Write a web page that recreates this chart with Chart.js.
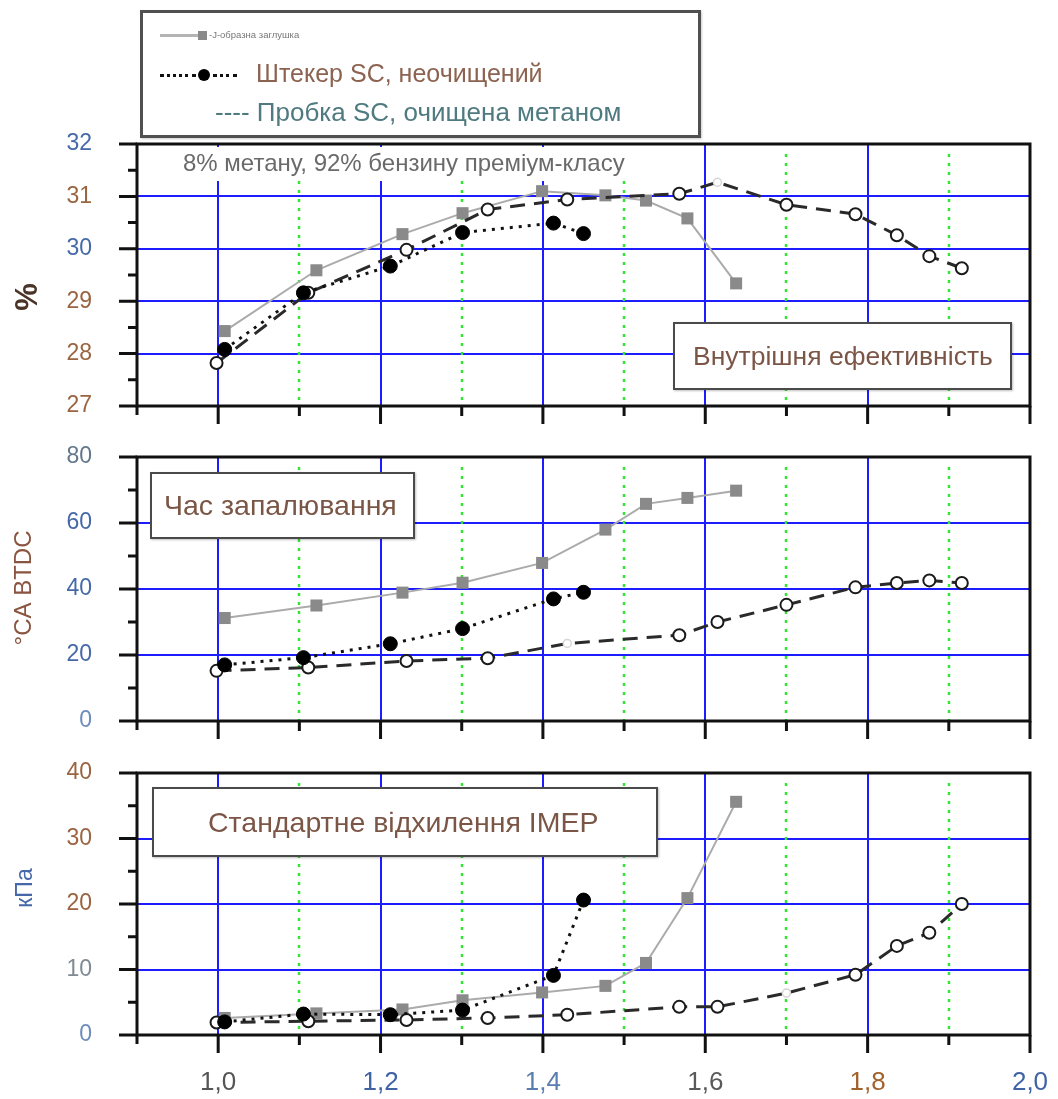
<!DOCTYPE html>
<html lang="uk">
<head>
<meta charset="utf-8">
<title>Внутрішня ефективність, час запалювання, IMEP</title>
<script src="https://cdn.jsdelivr.net/npm/chart.js@4.4.1/dist/chart.umd.min.js"></script>
<style>
  body { margin: 0; background: #fff; font-family: "Liberation Sans", Arial, sans-serif; }
  #page { position: relative; width: 1058px; height: 1099px; overflow: hidden; background: #fff; }
  canvas { position: absolute; left: 0; }
  .box {
    position: absolute; box-sizing: border-box; background: #fff;
    border: 2px solid #4a4a4a; box-shadow: 1px 1px 2px rgba(0,0,0,0.25);
    color: #7b5646; display: flex; align-items: center; white-space: nowrap;
  }
  #legend { position: absolute; left: 140px; top: 10px; width: 561px; height: 128px; box-sizing: border-box;
            border: 3px solid #505050; background: #fff; box-shadow: 1px 1px 2px rgba(0,0,0,0.2); }
  .abs { position: absolute; white-space: nowrap; }
</style>
</head>
<body>
<div id="page">
  <canvas id="effChart" width="1058" height="300" style="top:130px"></canvas>
  <canvas id="sparkChart" width="1058" height="300" style="top:440px"></canvas>
  <canvas id="imepChart" width="1058" height="349" style="top:750px"></canvas>

  <div id="legend">
    <div class="abs" style="left:17px; top:21px; width:38px; border-top:3px solid #b4b4b4"></div>
    <div class="abs" style="left:55px; top:18px; width:9px; height:9px; background:#8a8a8a"></div>
    <div class="abs" style="left:66px; top:16px; font-size:9.5px; color:#777">-J-образна заглушка</div>

    <div class="abs" style="left:17px; top:61px; width:36px; border-top:3px dotted #111"></div>
    <div class="abs" style="left:55px; top:56px; width:12px; height:12px; border-radius:50%; background:#000"></div>
    <div class="abs" style="left:70px; top:61px; width:24px; border-top:3px dotted #111"></div>
    <div class="abs" style="left:113px; top:46px; font-size:25px; color:#8c6350">Штекер SC, неочищений</div>

    <div class="abs" style="left:72px; top:84px; font-size:26px; color:#4e7a80">---- Пробка SC, очищена метаном</div>
  </div>

  <div class="abs" style="left:145px; top:147px; width:500px; height:34px; background:#fff;">
    <div class="abs" style="left:38px; top:2px; font-size:24px; color:#6a6a6a">8% метану, 92% бензину преміум-класу</div>
  </div>

  <div class="box" style="left:673px; top:322px; width:339px; height:68px; font-size:26.5px; padding-left:18px">Внутрішня ефективність</div>
  <div class="box" style="left:150px; top:472px; width:265px; height:67px; font-size:28.5px; padding-left:12px">Час запалювання</div>
  <div class="box" style="left:152px; top:787px; width:506px; height:70px; font-size:28.5px; padding-left:54px">Стандартне відхилення IMEP</div>
</div>

<script>
// λ для кожної серії
const lambdaJ = [1.008, 1.121, 1.227, 1.301, 1.399, 1.477, 1.527, 1.578, 1.638];
const lambdaDirty = [1.008, 1.105, 1.212, 1.301, 1.413, 1.450];
const lambdaClean = [0.998, 1.111, 1.232, 1.332, 1.430, 1.568, 1.615, 1.700, 1.785, 1.836, 1.876, 1.916];

// Внутрішня ефективність, %
const effJ = [28.43, 29.59, 30.28, 30.68, 31.10, 31.02, 30.92, 30.58, 29.34];
const effDirty = [28.08, 29.16, 29.67, 30.31, 30.49, 30.29];
const effClean = [27.82, 29.16, 29.98, 30.75, 30.94, 31.05, 31.27, 30.84, 30.66, 30.26, 29.86, 29.63];

// Час запалювання, °CA BTDC
const sparkJ = [31.2, 35.0, 38.9, 41.9, 47.9, 58.0, 65.8, 67.6, 69.8];
const sparkDirty = [17.0, 19.2, 23.4, 28.0, 37.0, 39.0];
const sparkClean = [15.2, 16.2, 18.2, 19.0, 23.5, 26.0, 30.0, 35.2, 40.5, 41.8, 42.6, 41.8];

// Стандартне відхилення IMEP, кПа
const imepJ = [2.6, 3.3, 3.9, 5.3, 6.5, 7.5, 11.0, 20.9, 35.6];
const imepDirty = [2.0, 3.2, 3.1, 3.8, 9.1, 20.6];
const imepClean = [1.9, 2.1, 2.3, 2.6, 3.1, 4.3, 4.3, 6.4, 9.2, 13.6, 15.6, 20.0];

// Поділки осей
const xTicks = [1.0, 1.2, 1.4, 1.6, 1.8, 2.0];
const effTicks = [27, 28, 29, 30, 31, 32];
const sparkTicks = [0, 20, 40, 60, 80];
const imepTicks = [0, 10, 20, 30, 40];

const BLUE = '#4569a8', BROWN = '#9a6440', SLATE = '#62778c';
const xLabelColors = { 10: '#555555', 12: '#3f63a3', 14: '#5a7db0', 16: '#5a5a5a', 18: '#a2622c', 20: '#3f63a3' };

function pts(xs, ys) {
    return xs.map((x, i) => ({ x: x, y: ys[i] }));
}

// Сітка, рамка, засічки та підпис осі Y
const framePlugin = {
    id: 'frame',
    beforeDatasetsDraw(chart, args, o) {
        const { ctx, chartArea: a, scales: { x, y } } = chart;
        ctx.save();
        ctx.lineWidth = 2;
        ctx.strokeStyle = '#1c1cff';
        o.yTicks.slice(1, -1).forEach(v => {
            const py = Math.round(y.getPixelForValue(v));
            ctx.beginPath();
            ctx.moveTo(a.left, py);
            ctx.lineTo(a.right, py);
            ctx.stroke();
        });
        for (let k = 10; k < 20; k++) {
            const px = Math.round(x.getPixelForValue(k / 10));
            ctx.beginPath();
            if (k % 2 === 0) {
                ctx.setLineDash([]);
                ctx.strokeStyle = '#1c1cff';
                ctx.lineWidth = 2;
                ctx.moveTo(px, a.top);
            } else {
                ctx.setLineDash([3, 6]);
                ctx.strokeStyle = '#33e533';
                ctx.lineWidth = 2.5;
                ctx.moveTo(px, a.top + 10);
            }
            ctx.lineTo(px, a.bottom);
            ctx.stroke();
        }
        ctx.restore();
    },
    afterDraw(chart, args, o) {
        const { ctx, chartArea: a, scales: { x, y } } = chart;
        ctx.save();
        ctx.strokeStyle = '#111';
        ctx.lineWidth = 3;
        ctx.setLineDash([]);
        ctx.strokeRect(a.left, a.top, a.right - a.left, a.bottom - a.top);
        const step = o.yTicks[1] - o.yTicks[0];
        ctx.beginPath();
        o.yTicks.forEach((v, i) => {
            const py = y.getPixelForValue(v);
            ctx.moveTo(a.left - 18, py);
            ctx.lineTo(a.left, py);
            if (i < o.yTicks.length - 1) {
                const pm = y.getPixelForValue(v + step / 2);
                ctx.moveTo(a.left - 9, pm);
                ctx.lineTo(a.left, pm);
            }
        });
        for (let k = 9; k <= 20; k++) {
            const px = x.getPixelForValue(k / 10);
            const len = k === 9 ? 9 : (k % 2 === 0 ? 18 : 10);
            ctx.moveTo(px, a.bottom);
            ctx.lineTo(px, a.bottom + len);
        }
        ctx.stroke();

        const t = o.title;
        ctx.translate(t.x, t.y);
        ctx.rotate(-Math.PI / 2);
        ctx.font = t.font;
        ctx.fillStyle = t.color;
        ctx.textAlign = 'center';
        ctx.textBaseline = 'middle';
        ctx.fillText(t.text, 0, 0);
        ctx.restore();
    }
};

function makePanel(id, cfg) {
    const canvas = document.getElementById(id);
    const ticks = cfg.yTicks;
    const faint = (a, b) => lambdaClean.map((_, i) => i === cfg.faint ? a : b);
    return new Chart(canvas.getContext('2d'), {
        type: 'scatter',
        data: {
            datasets: [{
                label: 'Штекер SC, неочищений',
                data: pts(lambdaDirty, cfg.dirty),
                showLine: true,
                borderColor: '#111',
                borderWidth: 3,
                borderDash: [3, 6],
                pointRadius: 7,
                pointBackgroundColor: '#000',
                pointBorderColor: '#000',
                pointBorderWidth: 1
            }, {
                label: 'Пробка SC, очищена метаном',
                data: pts(lambdaClean, cfg.clean),
                showLine: true,
                borderColor: '#2a2a2a',
                borderWidth: 3,
                borderDash: [15, 9],
                pointRadius: faint(4, 6),
                pointBackgroundColor: '#fff',
                pointBorderColor: faint('#d6d6d6', '#1a1a1a'),
                pointBorderWidth: faint(1.5, 2)
            }, {
                label: 'J-образна заглушка',
                data: pts(lambdaJ, cfg.j),
                showLine: true,
                borderColor: '#ababab',
                borderWidth: 2,
                pointStyle: 'rect',
                pointRadius: 8.5,
                pointBackgroundColor: '#8a8a8a',
                pointBorderColor: '#8a8a8a',
                pointBorderWidth: 0
            }]
        },
        options: {
            responsive: false,
            animation: false,
            layout: { padding: { top: cfg.padTop, right: 28, left: 0, bottom: 0 } },
            plugins: {
                legend: { display: false },
                tooltip: { enabled: false },
                frame: { yTicks: ticks, title: cfg.title }
            },
            scales: {
                x: {
                    type: 'linear',
                    min: 0.9,
                    max: 2.0,
                    grid: { display: false },
                    border: { display: false },
                    afterFit: s => {
                        s.height = cfg.xHeight;
                        s.paddingLeft = 0;
                        s.paddingRight = 0;
                    },
                    ticks: {
                        display: cfg.showX,
                        stepSize: 0.1,
                        autoSkip: false,
                        maxRotation: 0,
                        padding: 24,
                        font: { family: '"Liberation Sans", Arial', size: 26 },
                        color: ctx => xLabelColors[Math.round(ctx.tick.value * 10)] || '#555',
                        callback: v => xTicks.some(t => Math.abs(t - v) < 1e-6) ? v.toFixed(1).replace('.', ',') : ''
                    }
                },
                y: {
                    min: ticks[0],
                    max: ticks[ticks.length - 1],
                    grid: { display: false },
                    border: { display: false },
                    afterFit: s => {
                        s.width = 137;
                        s.paddingTop = 0;
                        s.paddingBottom = 0;
                    },
                    ticks: {
                        stepSize: ticks[1] - ticks[0],
                        padding: 37,
                        font: { family: '"Liberation Sans", Arial', size: 23 },
                        color: ctx => cfg.yColors[ctx.tick.value] || BLUE
                    }
                }
            }
        },
        plugins: [framePlugin]
    });
}

document.addEventListener('DOMContentLoaded', function() {
    makePanel('effChart', {
        j: effJ, dirty: effDirty, clean: effClean, faint: 6,
        yTicks: effTicks, padTop: 14, xHeight: 24, showX: false,
        yColors: { 32: BLUE, 31: BROWN, 30: BLUE, 29: BROWN, 28: BROWN, 27: BROWN },
        title: { text: '%', x: 28, y: 167, color: '#4a3428', font: 'bold 31px "Liberation Sans", Arial' }
    });
    makePanel('sparkChart', {
        j: sparkJ, dirty: sparkDirty, clean: sparkClean, faint: 4,
        yTicks: sparkTicks, padTop: 17, xHeight: 19, showX: false,
        yColors: { 80: SLATE, 60: BLUE, 40: BLUE, 20: BLUE, 0: '#6d8bbb' },
        title: { text: '°CA BTDC', x: 24, y: 148, color: '#8a5540', font: '24px "Liberation Sans", Arial' }
    });
    makePanel('imepChart', {
        j: imepJ, dirty: imepDirty, clean: imepClean, faint: 7,
        yTicks: imepTicks, padTop: 23, xHeight: 64, showX: true,
        yColors: { 40: BROWN, 30: BROWN, 20: BROWN, 10: '#7f8a95', 0: '#6d8bbb' },
        title: { text: 'кПа', x: 26, y: 138, color: '#4569a8', font: '23px "Liberation Sans", Arial' }
    });
});
</script>
</body>
</html>
